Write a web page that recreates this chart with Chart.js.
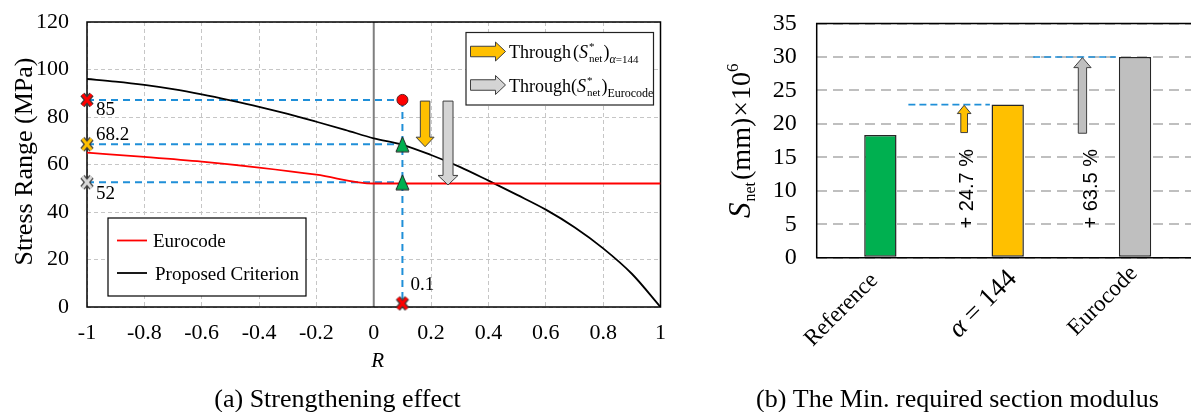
<!DOCTYPE html>
<html>
<head>
<meta charset="utf-8">
<script src="https://cdn.jsdelivr.net/npm/chart.js@4.4.1/dist/chart.umd.min.js"></script>
<style>
  html, body { margin: 0; padding: 0; background: #fff; overflow: hidden; width: 1191px; height: 412px; }
  #chartA { position: absolute; left: 0; top: 0; }
  #chartB { position: absolute; left: 700px; top: 0; }
</style>
</head>
<body>
<canvas id="chartA" width="690" height="412"></canvas>
<canvas id="chartB" width="510" height="412"></canvas>
<script>
// ---------- (a) Strengthening effect: stress range vs R ----------
const rGrid = [-1, -0.9, -0.8, -0.7, -0.6, -0.5, -0.4, -0.3, -0.2, -0.1, 0, 0.1, 0.2, 0.3, 0.4, 0.5, 0.6, 0.7, 0.8, 0.9, 1];
const proposedStress = [96, 94.9, 93.5, 91.7, 89.5, 87, 84.3, 81.3, 78, 74.6, 71, 68.3, 64, 59, 53.2, 47.2, 41, 33.6, 24.7, 14, 0];
const eurocodeR = [-1, -0.8, -0.6, -0.4, -0.2, 0, 1];
const eurocodeStress = [65, 63.2, 61.2, 58.7, 55.7, 52, 52];

const designR = 0.1;
const levelValues = [87.2, 68.5, 52.5];      // dashed guide levels
const levelLabels = ["85", "68.2", "52"];
const axisMarkStress = 1.5;                   // red cross on the R axis
const arrowR = [0.179, 0.259];                // down arrows (yellow, gray)
const arrowTop = [86.7, 86.7];
const arrowTip = [67.5, 51.4];

// ---------- (b) Min. required section modulus ----------
const sectionLabels = ["Reference", "α = 144", "Eurocode"];
const sectionModulus = [18.35, 22.88, 30.0];
const increaseLabels = ["+ 24.7 %", "+ 63.5 %"];
const increaseFrom = [18.7, 18.6];
const increaseAt = [0.658, 1.587];             // category position of up arrows

const RED = "#FF0000";
const YELLOW = "#FFC000";
const GRAY_ARROW = "#D4D4D4";
const GREEN = "#00B050";
const BLUE_DASH = "#1F8FD8";
const SERIF = "'Liberation Serif', 'Times New Roman', serif";

Chart.defaults.font.family = SERIF;
Chart.defaults.color = "#000";

function pts(xs, ys) {
  return xs.map((v, i) => ({ x: v, y: ys[i] }));
}

// keep the plot box where the layout padding puts it
function fixWidth(w) {
  return (s) => { s.width = w; s.paddingTop = 0; s.paddingBottom = 0; };
}
function fixHeight(h) {
  return (s) => { s.height = h; s.paddingLeft = 0; s.paddingRight = 0; };
}

function makeCross(fill) {
  const c = document.createElement("canvas");
  c.width = 16; c.height = 16;
  const g = c.getContext("2d");
  const path = () => {
    g.beginPath();
    g.moveTo(3.5, 2.5); g.lineTo(12.5, 13.5);
    g.moveTo(12.5, 2.5); g.lineTo(3.5, 13.5);
  };
  path(); g.strokeStyle = "#3a3a3a"; g.lineWidth = 5.5; g.stroke();
  path(); g.strokeStyle = fill; g.lineWidth = 3; g.stroke();
  return c;
}

function makeTriangle(fill) {
  const c = document.createElement("canvas");
  c.width = 15; c.height = 17;
  const g = c.getContext("2d");
  g.beginPath();
  g.moveTo(7.5, 1); g.lineTo(14, 16); g.lineTo(1, 16); g.closePath();
  g.fillStyle = fill; g.fill();
  g.strokeStyle = "#222"; g.lineWidth = 1; g.stroke();
  return c;
}

function drawArrow(ctx, x0, y0, x1, y1, shaftW, headW, headLen, fill) {
  const len = Math.hypot(x1 - x0, y1 - y0);
  ctx.save();
  ctx.translate(x0, y0);
  ctx.rotate(Math.atan2(y1 - y0, x1 - x0));
  ctx.beginPath();
  ctx.moveTo(0, -shaftW / 2);
  ctx.lineTo(len - headLen, -shaftW / 2);
  ctx.lineTo(len - headLen, -headW / 2);
  ctx.lineTo(len, 0);
  ctx.lineTo(len - headLen, headW / 2);
  ctx.lineTo(len - headLen, shaftW / 2);
  ctx.lineTo(0, shaftW / 2);
  ctx.closePath();
  ctx.fillStyle = fill;
  ctx.fill();
  ctx.strokeStyle = "#3f3f3f";
  ctx.lineWidth = 1;
  ctx.stroke();
  ctx.restore();
}

// text runs: {text, font, dy, gap, still}
function richWidth(ctx, parts) {
  let w = 0;
  for (const p of parts) {
    ctx.font = p.font;
    if (!p.still) w += ctx.measureText(p.text).width + (p.gap || 0);
  }
  return w;
}
function drawRich(ctx, parts, x, y) {
  let cx = x;
  for (const p of parts) {
    ctx.font = p.font;
    ctx.fillText(p.text, cx, y + (p.dy || 0));
    if (!p.still) cx += ctx.measureText(p.text).width + (p.gap || 0);
  }
}

const crossRed = makeCross(RED);
const crossYellow = makeCross(YELLOW);
const crossGray = makeCross("#D9D9D9");
const triGreen = makeTriangle(GREEN);

const dashed = (data) => ({
  data, borderColor: BLUE_DASH, borderWidth: 2, borderDash: [7, 5],
  pointRadius: 0, tension: 0, order: 3, clip: false,
});

const decorA = {
  id: "decorA",
  beforeDatasetsDraw(chart) {
    const { ctx, chartArea: a, scales: { x } } = chart;
    const x0 = x.getPixelForValue(0);
    ctx.save();
    ctx.strokeStyle = "#7f7f7f";
    ctx.lineWidth = 2;
    ctx.beginPath();
    ctx.moveTo(x0, a.top); ctx.lineTo(x0, a.bottom);
    ctx.stroke();
    ctx.strokeStyle = "#000";
    ctx.lineWidth = 1.5;
    ctx.strokeRect(a.left, a.top, a.right - a.left, a.bottom - a.top);
    ctx.restore();
  },
  afterDatasetsDraw(chart) {
    const { ctx, chartArea: a, scales: { x, y } } = chart;
    ctx.save();

    // down arrows
    const arrowFill = [YELLOW, GRAY_ARROW];
    const arrowShaft = [9.5, 10];
    const arrowHead = [18, 20];
    arrowR.forEach((r, i) => {
      drawArrow(ctx, x.getPixelForValue(r), y.getPixelForValue(arrowTop[i]),
        x.getPixelForValue(r), y.getPixelForValue(arrowTip[i]),
        arrowShaft[i], arrowHead[i], 9.5, arrowFill[i]);
    });

    // value labels next to the markers
    ctx.fillStyle = "#000";
    ctx.font = "19px " + SERIF;
    ctx.textBaseline = "middle";
    ctx.textAlign = "left";
    const xl = x.getPixelForValue(-1);
    const offs = [10, -9, 12];
    levelLabels.forEach((t, i) => {
      ctx.fillText(t, xl + 9, y.getPixelForValue(levelValues[i]) + offs[i]);
    });
    ctx.fillText(String(designR), x.getPixelForValue(designR) + 8, y.getPixelForValue(axisMarkStress) - 18);

    // legend: Eurocode / Proposed Criterion
    const lx = a.left + 21, ly = a.top + 196;
    ctx.fillStyle = "#fff";
    ctx.fillRect(lx, ly, 198, 78);
    ctx.strokeStyle = "#000";
    ctx.lineWidth = 1.2;
    ctx.strokeRect(lx, ly, 198, 78);
    ctx.lineWidth = 1.8;
    ctx.strokeStyle = RED;
    ctx.beginPath(); ctx.moveTo(lx + 9, ly + 22.5); ctx.lineTo(lx + 39, ly + 22.5); ctx.stroke();
    ctx.strokeStyle = "#000";
    ctx.beginPath(); ctx.moveTo(lx + 9, ly + 55); ctx.lineTo(lx + 39, ly + 55); ctx.stroke();
    ctx.fillStyle = "#000";
    ctx.font = "19px " + SERIF;
    ctx.textBaseline = "alphabetic";
    ctx.fillText("Eurocode", lx + 45, ly + 29);
    ctx.fillText("Proposed Criterion", lx + 47, ly + 62);

    // legend: arrows
    const bx = a.right - 194.5, by = a.top + 10.5;
    ctx.fillStyle = "#fff";
    ctx.fillRect(bx, by, 187.5, 72.5);
    ctx.strokeStyle = "#222";
    ctx.lineWidth = 1.2;
    ctx.strokeRect(bx, by, 187.5, 72.5);
    drawArrow(ctx, bx + 4.5, by + 19, bx + 39.5, by + 19, 10.5, 19, 10, YELLOW);
    drawArrow(ctx, bx + 4.5, by + 52.5, bx + 39.5, by + 52.5, 10.5, 19, 10, GRAY_ARROW);
    ctx.fillStyle = "#000";
    const big = "18px " + SERIF, small = "11px " + SERIF;
    const head = [
      { text: "Through", font: big, gap: 2 },
      { text: "(", font: big },
      { text: "S", font: "italic " + big, gap: 1 },
      { text: "*", font: small, dy: -8, still: true },
      { text: "net", font: small, dy: 4, gap: 1 },
      { text: ")", font: big },
    ];
    drawRich(ctx, head.concat([
      { text: "α", font: "italic 12px " + SERIF, dy: 5 },
      { text: "=144", font: small, dy: 5 },
    ]), bx + 43, by + 25.5);
    const head2 = head.map((p, i) => (i === 0 ? { text: p.text, font: p.font } : p));
    drawRich(ctx, head2.concat([
      { text: "Eurocode", font: "12px " + SERIF, dy: 5 },
    ]), bx + 43, by + 59);

    // axis titles
    ctx.font = "italic 21px " + SERIF;
    ctx.textAlign = "center";
    ctx.fillText("R", x.getPixelForValue(0) + 4, 367);
    ctx.save();
    ctx.translate(32, 161.5);
    ctx.rotate(-Math.PI / 2);
    ctx.font = "26px " + SERIF;
    ctx.fillText("Stress Range (MPa)", 0, 0);
    ctx.restore();

    // caption
    ctx.font = "26px " + SERIF;
    ctx.fillText("(a) Strengthening effect", 337.5, 407);
    ctx.restore();
  },
};

new Chart(document.getElementById("chartA"), {
  type: "line",
  data: {
    datasets: [
      // markers
      {
        data: pts([-1, -1, -1], levelValues),
        pointStyle: [crossRed, crossYellow, crossGray],
        showLine: false, pointRadius: 8, order: 0, clip: false,
      },
      {
        data: pts([designR], [axisMarkStress]),
        pointStyle: crossRed, showLine: false, pointRadius: 8, order: 0, clip: false,
      },
      {
        data: pts([designR], [levelValues[0]]),
        pointStyle: "circle", pointRadius: 5.5, pointBackgroundColor: RED,
        pointBorderColor: "#5a2020", pointBorderWidth: 1, showLine: false, order: 0, clip: false,
      },
      {
        data: pts([designR, designR], [levelValues[1], levelValues[2]]),
        pointStyle: triGreen, showLine: false, pointRadius: 8, order: 0, clip: false,
      },
      // curves
      {
        label: "Eurocode",
        data: pts(eurocodeR, eurocodeStress),
        borderColor: RED, borderWidth: 1.8, pointRadius: 0,
        cubicInterpolationMode: "monotone", order: 1,
      },
      {
        label: "Proposed Criterion",
        data: pts(rGrid, proposedStress),
        borderColor: "#000", borderWidth: 1.8, pointRadius: 0,
        cubicInterpolationMode: "monotone", order: 1,
      },
      // dashed guides
      dashed(pts([-1, designR], [levelValues[0], levelValues[0]])),
      dashed(pts([-1, designR], [levelValues[1], levelValues[1]])),
      dashed(pts([-1, designR], [levelValues[2], levelValues[2]])),
      dashed(pts([designR, designR], [levelValues[0], axisMarkStress])),
    ],
  },
  options: {
    responsive: false,
    animation: false,
    layout: { padding: { top: 22, right: 29.5, left: 0, bottom: 0 } },
    plugins: { legend: { display: false }, tooltip: { enabled: false } },
    scales: {
      x: {
        type: "linear", min: -1, max: 1,
        ticks: {
          stepSize: 0.2, font: { size: 22 }, color: "#000", padding: 13, maxRotation: 0,
          callback: (v) => String(Math.round(v * 10) / 10),
        },
        grid: { color: "#c6c6c6", lineWidth: 1, drawTicks: false },
        border: { display: false, dash: [4, 3] },
        afterFit: fixHeight(105),
      },
      y: {
        min: 0, max: 120,
        ticks: { stepSize: 20, font: { size: 22 }, color: "#000", padding: 18 },
        grid: { color: "#c6c6c6", lineWidth: 1, drawTicks: false },
        border: { display: false, dash: [4, 3] },
        afterFit: fixWidth(87),
      },
    },
  },
  plugins: [decorA],
});

// ---------- (b) ----------
const decorB = {
  id: "decorB",
  afterDatasetsDraw(chart) {
    const { ctx, chartArea: a, scales: { x, y } } = chart;
    ctx.save();

    // frame
    ctx.strokeStyle = "#000";
    ctx.lineWidth = 1.5;
    ctx.beginPath();
    ctx.moveTo(a.right + 5, a.top); ctx.lineTo(a.left, a.top);
    ctx.lineTo(a.left, a.bottom); ctx.lineTo(a.right + 5, a.bottom);
    ctx.stroke();

    // dashed reach lines to the bar tops
    const reach = [[0.22, 0.86], [1.2, 1.85]];
    ctx.strokeStyle = BLUE_DASH;
    ctx.lineWidth = 1.6;
    ctx.setLineDash([7, 4]);
    reach.forEach((r, i) => {
      const yy = y.getPixelForValue(sectionModulus[i + 1]);
      ctx.beginPath();
      ctx.moveTo(x.getPixelForValue(r[0]), yy);
      ctx.lineTo(x.getPixelForValue(r[1]), yy);
      ctx.stroke();
    });
    ctx.setLineDash([]);

    // up arrows
    const fills = [YELLOW, "#BFBFBF"];
    const shaft = [6.7, 8.3], headW = [13.7, 17.3], headL = [8.3, 10];
    increaseAt.forEach((c, i) => {
      const px = x.getPixelForValue(c);
      drawArrow(ctx, px, y.getPixelForValue(increaseFrom[i]), px,
        y.getPixelForValue(sectionModulus[i + 1] - 0.1), shaft[i], headW[i], headL[i], fills[i]);
    });

    // percentage labels
    ctx.fillStyle = "#000";
    ctx.font = "20px 'Liberation Sans', Arial, sans-serif";
    ctx.textAlign = "center";
    ctx.textBaseline = "middle";
    const labelAt = [0.683, 1.655];
    increaseLabels.forEach((t, i) => {
      ctx.save();
      ctx.translate(x.getPixelForValue(labelAt[i]), y.getPixelForValue(10.3));
      ctx.rotate(-Math.PI / 2);
      ctx.fillText(t, 0, 0);
      ctx.restore();
    });

    // rotated category labels
    ctx.textBaseline = "alphabetic";
    ctx.textAlign = "left";
    const shift = [[-1.7, 23.5], [10, 22], [3.3, 16.6]];
    const rich = [
      [{ text: sectionLabels[0], font: "23px " + SERIF }],
      [
        { text: sectionLabels[1].charAt(0), font: "italic 27px " + SERIF },
        { text: sectionLabels[1].slice(1), font: "27px " + SERIF },
      ],
      [{ text: sectionLabels[2], font: "23px " + SERIF }],
    ];
    rich.forEach((parts, i) => {
      const w = richWidth(ctx, parts);
      ctx.save();
      ctx.translate(x.getPixelForValue(i) + shift[i][0], a.bottom + shift[i][1]);
      ctx.rotate(-Math.PI / 4);
      drawRich(ctx, parts, -w, 0);
      ctx.restore();
    });

    // y title
    ctx.save();
    ctx.translate(50, 218);
    ctx.rotate(-Math.PI / 2);
    drawRich(ctx, [
      { text: "S", font: "italic 31px " + SERIF, gap: 1 },
      { text: "net", font: "16px " + SERIF, dy: 5, gap: 2 },
      { text: "(mm)", font: "28px " + SERIF, gap: 1 },
      { text: "×", font: "28px " + SERIF, gap: 1 },
      { text: "10", font: "28px " + SERIF },
      { text: "6", font: "17px " + SERIF, dy: -12 },
    ], 0, 0);
    ctx.restore();

    // caption
    ctx.font = "26px " + SERIF;
    ctx.textAlign = "center";
    ctx.fillText("(b) The Min. required section modulus", 257.5, 407);
    ctx.restore();
  },
};

new Chart(document.getElementById("chartB"), {
  type: "bar",
  data: {
    labels: sectionLabels,
    datasets: [{
      data: sectionModulus,
      backgroundColor: [GREEN, YELLOW, "#BFBFBF"],
      borderColor: "#262626",
      borderWidth: 1.5,
      borderSkipped: false,
      barPercentage: 0.254,
      categoryPercentage: 1,
    }],
  },
  options: {
    responsive: false,
    animation: false,
    layout: { padding: { top: 23.5, right: 11.3, left: 0, bottom: 0 } },
    plugins: { legend: { display: false }, tooltip: { enabled: false } },
    scales: {
      x: {
        ticks: { display: false },
        grid: { display: false },
        border: { display: false },
        afterFit: fixHeight(154.3),
      },
      y: {
        min: 0, max: 35,
        ticks: { stepSize: 5, font: { size: 24 }, color: "#000", padding: 20 },
        grid: { color: "#bfbfbf", lineWidth: 2, drawTicks: false },
        border: { display: false, dash: [10, 6] },
        afterFit: fixWidth(116.7),
      },
    },
  },
  plugins: [decorB],
});
</script>
</body>
</html>
